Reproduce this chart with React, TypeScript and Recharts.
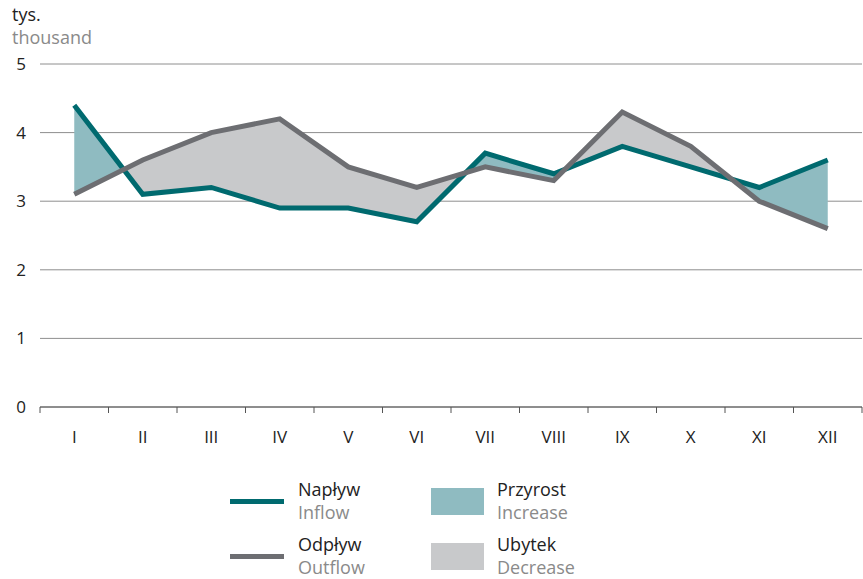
import { ComposedChart, Line, Area, XAxis, YAxis, CartesianGrid } from 'recharts';

const months = ['I', 'II', 'III', 'IV', 'V', 'VI', 'VII', 'VIII', 'IX', 'X', 'XI', 'XII'];
const inflow = [4.4, 3.1, 3.2, 2.9, 2.9, 2.7, 3.7, 3.4, 3.8, 3.5, 3.2, 3.6];
const outflow = [3.1, 3.6, 4.0, 4.2, 3.5, 3.2, 3.5, 3.3, 4.3, 3.8, 3.0, 2.6];
const yTicks = [0, 1, 2, 3, 4, 5];

const TEAL = '#006a6f';
const GREY = '#6d6e72';
const INCREASE = '#8fbbc1';
const DECREASE = '#c8c9cb';
const FONT = '"Open Sans", "Noto Sans", sans-serif';

const PLOT_LEFT = 40;
const PLOT_RIGHT = 862;
const AXIS_Y = 407;
const bandWidth = (PLOT_RIGHT - PLOT_LEFT) / months.length;

const data = months.map((m, i) => ({ month: m, inflow: inflow[i], outflow: outflow[i] }));

// colour stops for the fill between the lines: switch where the lines cross
function fillStops() {
  const diff = inflow.map((v, i) => v - outflow[i]);
  const n = diff.length - 1;
  const col = (d: number) => (d >= 0 ? INCREASE : DECREASE);
  const stops: { offset: number; color: string }[] = [{ offset: 0, color: col(diff[0]) }];
  for (let i = 0; i < n; i++) {
    if (Math.sign(diff[i]) !== Math.sign(diff[i + 1]) && diff[i + 1] !== 0) {
      const t = diff[i] / (diff[i] - diff[i + 1]);
      const off = (i + t) / n;
      stops.push({ offset: off, color: col(diff[i]) });
      stops.push({ offset: off, color: col(diff[i + 1]) });
    }
  }
  stops.push({ offset: 1, color: col(diff[n]) });
  return stops;
}

function renderXTick(props: any) {
  const { x, index, payload } = props;
  return (
    <g key={'xt' + index} style={{ fontFamily: FONT }}>
      <line x1={x - bandWidth / 2} x2={x - bandWidth / 2} y1={AXIS_Y} y2={AXIS_Y + 6} stroke="#555" />
      {index === months.length - 1 && (
        <line x1={x + bandWidth / 2} x2={x + bandWidth / 2} y1={AXIS_Y} y2={AXIS_Y + 6} stroke="#555" />
      )}
      <text x={x} y={443} textAnchor="middle" fontSize={17} fill="#222" fontFamily={FONT}>
        {payload.value}
      </text>
    </g>
  );
}

function renderYTick(props: any) {
  const { y, payload, index } = props;
  return (
    <text key={'yt' + index} x={21} y={y + 6} textAnchor="middle" fontSize={17} fill="#222" fontFamily={FONT}>
      {payload.value}
    </text>
  );
}

const mainText = { fontSize: 18, color: '#222', lineHeight: '23px' };
const subText = { fontSize: 18, color: '#8a8a8a', lineHeight: '23px' };

function LegendItem({ left, top, swatch, title, sub }: any) {
  return (
    <div style={{ position: 'absolute', left, top, display: 'flex', alignItems: 'center' }}>
      {swatch}
      <div>
        <div style={mainText}>{title}</div>
        <div style={subText}>{sub}</div>
      </div>
    </div>
  );
}

export default function App() {
  const stops = fillStops();
  return (
    <div style={{ position: 'absolute', left: 0, top: 0, width: 863, height: 579, background: '#fff', fontFamily: FONT }}>
      <svg width={0} height={0} style={{ position: 'absolute' }}>
        <defs>
          <linearGradient id="flowFill" x1="0" y1="0" x2="1" y2="0">
            {stops.map((s, i) => (
              <stop key={i} offset={s.offset} stopColor={s.color} />
            ))}
          </linearGradient>
        </defs>
      </svg>

      <div style={{ position: 'absolute', left: 12, top: 3, ...mainText }}>tys.</div>
      <div style={{ position: 'absolute', left: 12, top: 26, ...subText }}>thousand</div>

      <div style={{ position: 'absolute', left: 0, top: 0 }}>
        <ComposedChart width={863} height={450} data={data} margin={{ top: 64, right: 1, left: 0, bottom: 0 }}>
          <CartesianGrid vertical={false} stroke="#8e8e8e" strokeWidth={1} />
          <XAxis
            dataKey="month"
            height={43}
            padding={{ left: bandWidth / 2, right: bandWidth / 2 }}
            tickLine={false}
            axisLine={{ stroke: '#555' }}
            tick={renderXTick}
            interval={0}
          />
          <YAxis
            width={40}
            domain={[0, 5]}
            ticks={yTicks}
            axisLine={false}
            tickLine={false}
            tick={renderYTick}
          />
          <Area
            dataKey={(d: any) => [d.outflow, d.inflow]}
            fill="url(#flowFill)"
            fillOpacity={1}
            stroke="none"
            type="linear"
            isAnimationActive={false}
          />
          <Line dataKey="inflow" stroke={TEAL} strokeWidth={5} dot={false} type="linear" isAnimationActive={false} />
          <Line dataKey="outflow" stroke={GREY} strokeWidth={5} dot={false} type="linear" isAnimationActive={false} />
        </ComposedChart>
      </div>

      <LegendItem
        left={230}
        top={478}
        title="Napływ"
        sub="Inflow"
        swatch={<div style={{ width: 54, height: 5, background: TEAL, marginRight: 14 }} />}
      />
      <LegendItem
        left={230}
        top={533}
        title="Odpływ"
        sub="Outflow"
        swatch={<div style={{ width: 54, height: 5, background: GREY, marginRight: 14 }} />}
      />
      <LegendItem
        left={431}
        top={478}
        title="Przyrost"
        sub="Increase"
        swatch={<div style={{ width: 53, height: 27, background: INCREASE, marginRight: 13 }} />}
      />
      <LegendItem
        left={431}
        top={533}
        title="Ubytek"
        sub="Decrease"
        swatch={<div style={{ width: 53, height: 27, background: DECREASE, marginRight: 13 }} />}
      />
    </div>
  );
}
